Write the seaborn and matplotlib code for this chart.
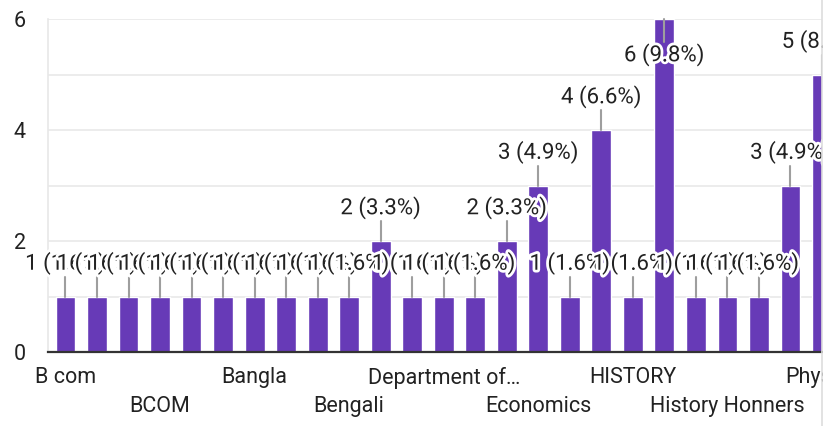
import numpy as np
import matplotlib
matplotlib.use("Agg")
import matplotlib.pyplot as plt
import matplotlib.patheffects as pe
from matplotlib.patches import Rectangle
from matplotlib.lines import Line2D
import seaborn as sns

# Responses per department (only the part visible in the screenshot)
counts = [1, 1, 1, 1, 1, 1, 1, 1, 1, 1, 2, 1, 1, 1, 2, 3, 1, 4, 1, 6, 1, 1, 1, 3, 5]
total = 61  # from the percentages shown (1 -> 1.6%)

# Every third category is labelled, alternating over two rows
row1_pos = [0, 6, 12, 18, 24]
row1_labels = ["B com", "Bangla", "Department of…", "HISTORY", "Physics"]
row2_pos = [3, 9, 15, 21]
row2_labels = ["BCOM", "Bengali", "Economics", "History Honners"]

sns.set_style("white")
plt.rcParams["font.family"] = ["Roboto", "DejaVu Sans"]

W, H = 826, 426
fig = plt.figure(figsize=(W / 100, H / 100), dpi=100)
ax = fig.add_axes([48 / W, (H - 352) / H, (822 - 48) / W, (352 - 19) / H])

x = np.arange(len(counts))
sns.barplot(x=x, y=counts, color="#673ab7", saturation=1, width=0.63, ax=ax, zorder=2)

ax.set_xlim(-0.554, 23.94)
ax.set_ylim(0, 6)

# gridlines and axis
ax.set_yticks(range(7))
ax.set_yticklabels(["0", "", "2", "", "4", "", "6"])
ax.yaxis.grid(True, color="#ebebeb", lw=1.3)
ax.xaxis.grid(False)
ax.set_axisbelow(True)
for s in ["top", "right"]:
    ax.spines[s].set_visible(False)
ax.spines["left"].set_color("#e8e8e8")
ax.spines["left"].set_linewidth(1.2)
ax.spines["bottom"].set_color("#333333")
ax.spines["bottom"].set_linewidth(1.6)
ax.spines["bottom"].set_zorder(5)

ax.set_xticks(row1_pos)
ax.set_xticklabels(row1_labels)
ax.set_xticks(row2_pos, minor=True)
ax.set_xticklabels(row2_labels, minor=True)
ax.tick_params(axis="x", which="major", length=0, pad=11, labelsize=15.5, labelcolor="#222222")
ax.tick_params(axis="x", which="minor", length=0, pad=32, labelsize=15.5, labelcolor="#222222")
ax.tick_params(axis="y", length=0, pad=16, labelsize=15.5, labelcolor="#222222")
ax.set_xlabel("")
ax.set_ylabel("")

# value labels with leader lines
halo = [pe.withStroke(linewidth=4, foreground="white")]
for i, v in enumerate(counts):
    label = f"{v} ({v / total * 100:.1f}%)"
    if v >= 6:
        ax.plot([i, i], [v, v - 0.41], color="#9e9e9e", lw=1.5, zorder=3, clip_on=False)
        ax.text(i, v - 0.44, label, ha="center", va="top", fontsize=16,
                color="#222222", path_effects=halo, zorder=4)
    else:
        ax.plot([i, i], [v, v + 0.36], color="#9e9e9e", lw=1.5, zorder=3)
        ax.text(i, v + 0.39, label, ha="center", va="bottom", fontsize=16,
                color="#222222", path_effects=halo, zorder=4)

# the screenshot is cut off at the chart container edge
fig.add_artist(Rectangle((822.5 / W, 0), 1, 1, transform=fig.transFigure,
                         facecolor="white", edgecolor="none", zorder=10))
fig.add_artist(Line2D([822 / W, 822 / W], [0, 1], transform=fig.transFigure,
                      color="#dddddd", lw=1.2, zorder=11))

fig.savefig("out.png", dpi=100, facecolor="white")
